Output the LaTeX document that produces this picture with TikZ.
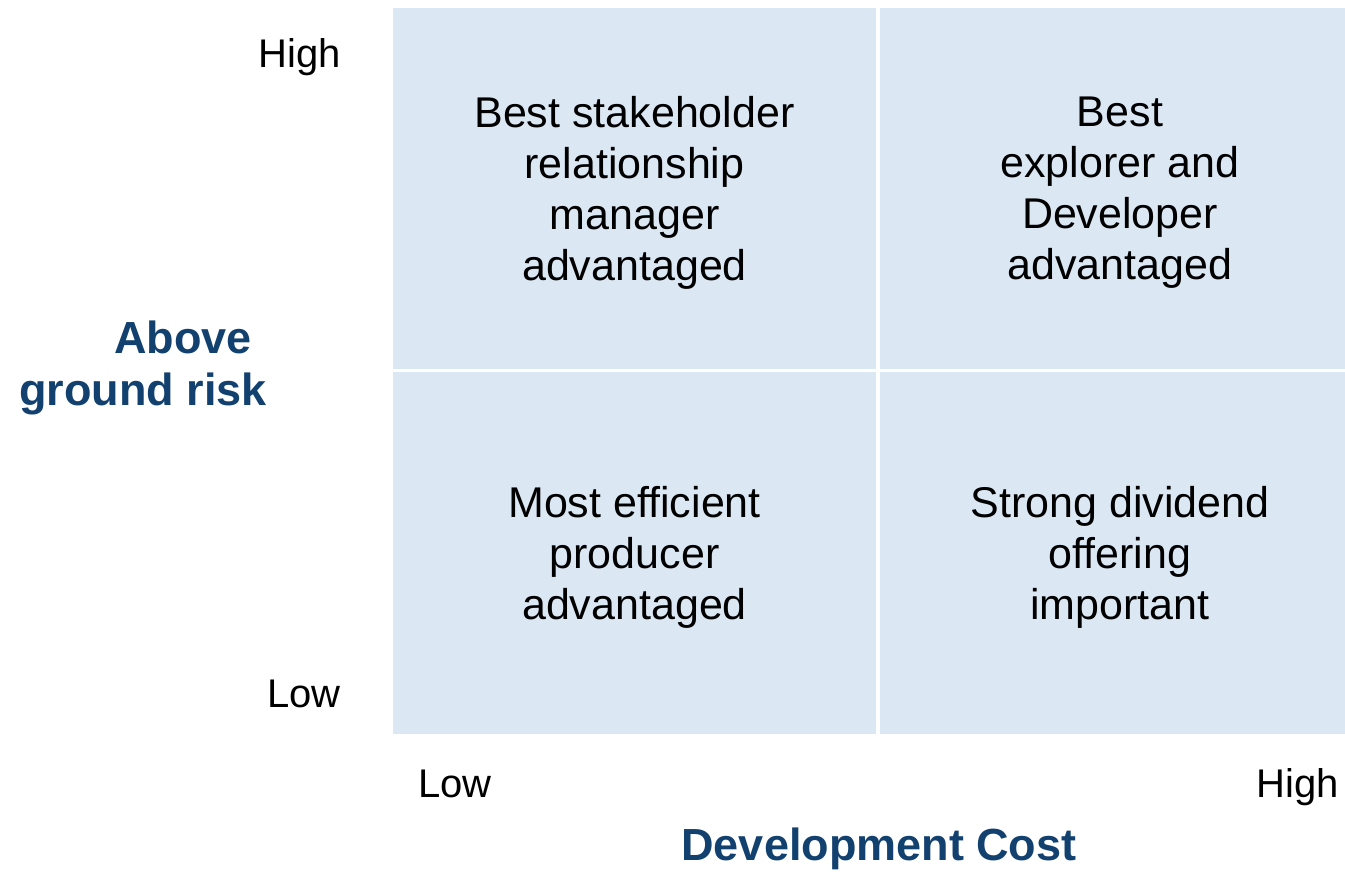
\documentclass[tikz,border=0pt]{standalone}
\usepackage{fontspec}
\setmainfont{Liberation Sans}
\usepackage{tikz}

\definecolor{quadfill}{HTML}{DCE7F4}
\definecolor{axisblue}{HTML}{124170}

\tikzset{
  quad/.style={fill=quadfill, draw=none, inner sep=0pt, align=center,
    text depth=0pt, font=\fontsize{43}{51}\selectfont},
  tick/.style={inner sep=0pt, font=\fontsize{40}{48}\selectfont},
  axislabel/.style={inner sep=0pt, text=axisblue,
    font=\fontsize{45}{52}\selectfont\bfseries}
}

\begin{document}
\begin{tikzpicture}[x=1pt,y=-1pt]

  \useasboundingbox (0,0) rectangle (1345,871);

  % the four quadrants
  \node[quad, minimum width=483, minimum height=361] (lowhigh) at (634.5,188.5)
    {Best stakeholder\\relationship\\manager\\advantaged};
  \node[quad, minimum width=480, minimum height=361] (highhigh) at (1120,188.5)
    {Best\\explorer and\\Developer\\advantaged};
  \node[quad, minimum width=483, minimum height=362] (lowlow) at (634.5,553)
    {Most efficient\\producer\\advantaged};
  \node[quad, minimum width=480, minimum height=362] (highlow) at (1120,553)
    {Strong dividend\\offering\\important};

  % vertical axis
  \node[tick, anchor=base east] (yhigh) at (341,67) {High};
  \node[tick, anchor=base east] (ylow) at (341,707) {Low};
  \node[axislabel, align=right, anchor=east] (ylabel) at (267,368)
    {Above\hspace*{15pt}\\ground risk};

  % horizontal axis
  \node[tick, anchor=base west] (xlow) at (418,797) {Low};
  \node[tick, anchor=base east] (xhigh) at (1339,797) {High};
  \node[axislabel, anchor=base] (xlabel) at (879,860) {Development Cost};

\end{tikzpicture}
\end{document}
